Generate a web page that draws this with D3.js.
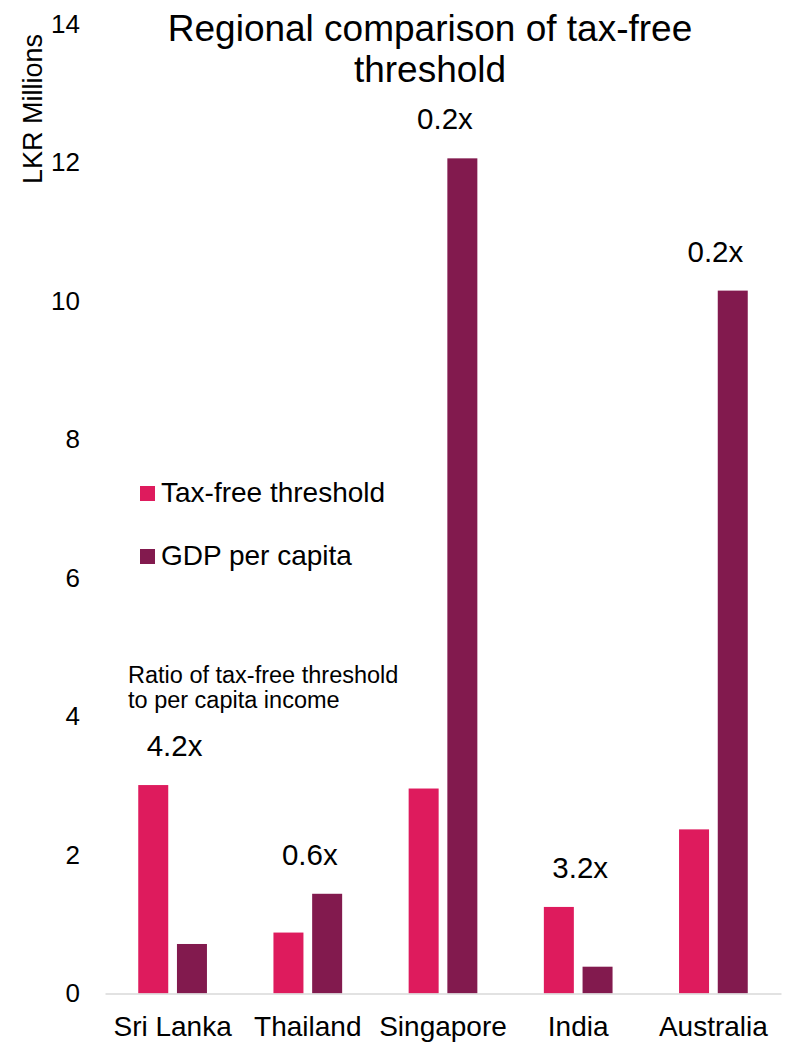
<!DOCTYPE html>
<html>
<head>
<meta charset="utf-8">
<script src="https://cdn.jsdelivr.net/npm/d3@7"></script>
<style>
  html, body { margin: 0; padding: 0; background: #fff; }
  svg { display: block; font-family: "Liberation Sans", Arial, sans-serif; }
</style>
</head>
<body>
<svg id="chart" width="794" height="1045"></svg>
<script>
// Data (LKR millions)
const categories = ["Sri Lanka", "Thailand", "Singapore", "India", "Australia"];
const taxFreeThreshold = [3.01, 0.88, 2.96, 1.25, 2.37];
const gdpPerCapita = [0.715, 1.44, 12.06, 0.387, 10.15];
const ratioLabels = ["4.2x", "0.6x", "0.2x", "3.2x", "0.2x"];
const seriesNames = ["Tax-free threshold", "GDP per capita"];
const seriesColors = ["#DE1B5D", "#821A4E"];
const yTicks = [0, 2, 4, 6, 8, 10, 12, 14];

const svg = d3.select("#chart");

const plot = { left: 105, right: 781, top: 24, bottom: 993.5 };

const x0 = d3.scaleBand()
  .domain(categories)
  .range([plot.left, plot.right])
  .padding(0);

const groupWidth = 68.7;
const x1 = d3.scaleBand()
  .domain(seriesNames)
  .range([(x0.bandwidth() - groupWidth) / 2, (x0.bandwidth() + groupWidth) / 2])
  .paddingInner(0.225);

const y = d3.scaleLinear()
  .domain([0, 14])
  .range([plot.bottom, plot.top]);

// Title
svg.append("text")
  .attr("x", 430).attr("y", 41)
  .attr("text-anchor", "middle")
  .attr("font-size", 37)
  .attr("fill", "#000")
  .text("Regional comparison of tax-free");
svg.append("text")
  .attr("x", 430).attr("y", 82)
  .attr("text-anchor", "middle")
  .attr("font-size", 37)
  .attr("fill", "#000")
  .text("threshold");

// Y axis label
svg.append("text")
  .attr("transform", "translate(42,109) rotate(-90)")
  .attr("text-anchor", "middle")
  .attr("font-size", 27)
  .attr("fill", "#000")
  .text("LKR Millions");

// Y axis (labels only)
const yAxis = d3.axisLeft(y)
  .tickValues(yTicks)
  .tickFormat(d3.format("d"))
  .tickSize(0)
  .tickPadding(0);
const yG = svg.append("g")
  .attr("transform", "translate(80,0)")
  .call(yAxis);
yG.select(".domain").remove();
yG.selectAll("text")
  .attr("font-family", "Liberation Sans, Arial, sans-serif")
  .attr("font-size", 26)
  .attr("fill", "#000");

// Bars
const rows = categories.map((c, i) => ({
  category: c,
  values: [taxFreeThreshold[i], gdpPerCapita[i]],
  ratio: ratioLabels[i]
}));

const groups = svg.append("g")
  .selectAll("g")
  .data(rows)
  .join("g")
  .attr("transform", d => `translate(${x0(d.category)},0)`);

groups.selectAll("rect")
  .data(d => d.values.map((v, j) => ({ series: seriesNames[j], value: v, color: seriesColors[j] })))
  .join("rect")
  .attr("x", d => x1(d.series))
  .attr("width", x1.bandwidth())
  .attr("y", d => y(d.value))
  .attr("height", d => y(0) - y(d.value))
  .attr("fill", d => d.color);

// Ratio labels above each group
groups.append("text")
  .attr("x", x0.bandwidth() / 2 + 2)
  .attr("y", d => y(d3.max(d.values)) - 29)
  .attr("text-anchor", "middle")
  .attr("font-size", 29.5)
  .attr("fill", "#000")
  .text(d => d.ratio);

// X axis baseline and category labels
const xAxis = d3.axisBottom(x0).tickSize(0).tickPadding(0);
const xG = svg.append("g")
  .attr("transform", `translate(0,${plot.bottom})`)
  .call(xAxis);
xG.select(".domain")
  .attr("stroke", "#D9D9D9")
  .attr("stroke-width", 1.5);
xG.selectAll("text")
  .attr("font-family", "Liberation Sans, Arial, sans-serif")
  .attr("font-size", 28)
  .attr("fill", "#000")
  .attr("dy", null)
  .attr("y", 42);

// Legend
const legend = svg.append("g");
const legendRows = [{ y: 486 }, { y: 549 }];
seriesNames.forEach((name, i) => {
  legend.append("rect")
    .attr("x", 140).attr("y", legendRows[i].y)
    .attr("width", 15).attr("height", 15)
    .attr("fill", seriesColors[i]);
  legend.append("text")
    .attr("x", 161).attr("y", legendRows[i].y + 16)
    .attr("font-size", 28)
    .attr("fill", "#000")
    .text(name);
});

// Note on ratio labels
svg.append("text")
  .attr("x", 128).attr("y", 683)
  .attr("font-size", 23.5)
  .attr("fill", "#000")
  .text("Ratio of tax-free threshold");
svg.append("text")
  .attr("x", 128).attr("y", 708)
  .attr("font-size", 23.5)
  .attr("fill", "#000")
  .text("to per capita income");
</script>
</body>
</html>
